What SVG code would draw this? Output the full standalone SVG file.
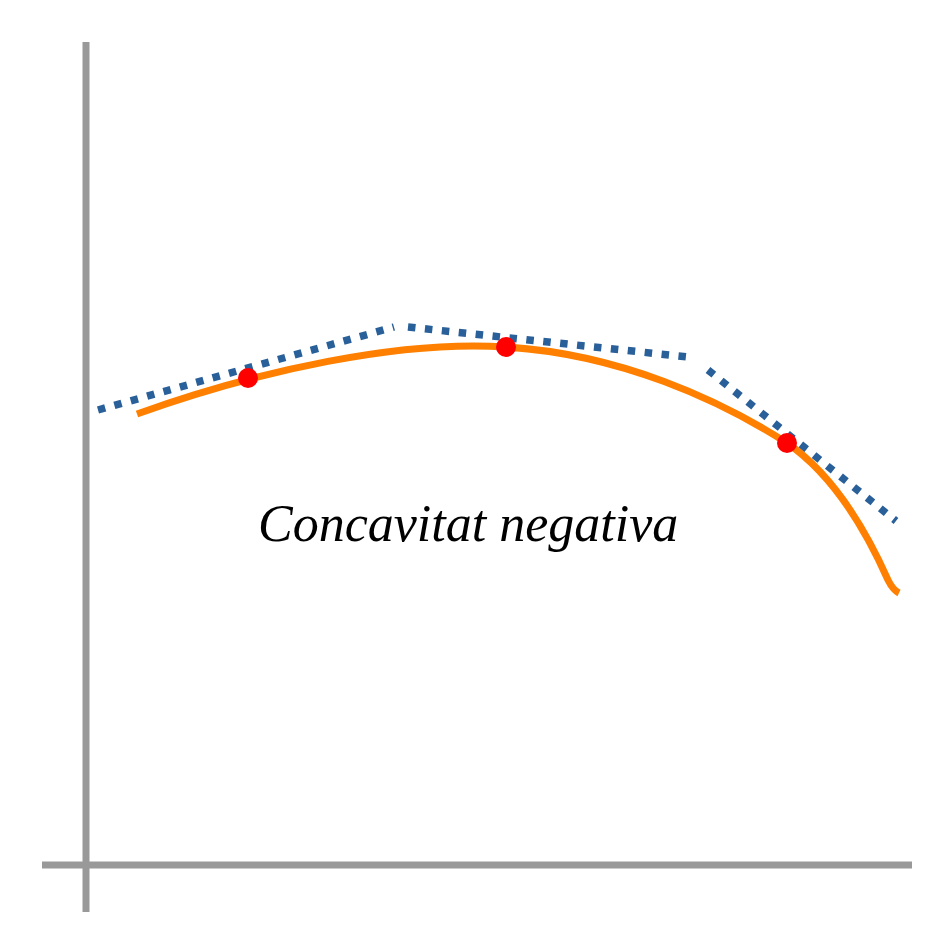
<svg xmlns="http://www.w3.org/2000/svg" width="945" height="945" viewBox="0 0 945 945">
<style>
.axis{stroke:#999999;stroke-width:7;fill:none}
.tan{stroke:#2a6099;stroke-width:7.5;stroke-dasharray:7.5 9.5;fill:none}
.curve{stroke:#ff8000;stroke-width:7;fill:none}
.pt{fill:#ff0000}
.lbl{font-family:"Liberation Serif",serif;font-style:italic;font-size:52px;fill:#000}
</style>
<rect width="945" height="945" fill="#ffffff"/>
<g id="axes">
<line class="axis" x1="86" y1="42" x2="86" y2="912"/>
<line class="axis" x1="42" y1="865" x2="912" y2="865"/>
</g>
<g id="tangents">
<line class="tan" x1="98" y1="410" x2="394" y2="327"/>
<line class="tan" x1="408" y1="327" x2="688" y2="357"/>
<line class="tan" x1="708" y1="370" x2="896" y2="521"/>
</g>
<g id="curve">
<path class="curve" d="M137,414 C260,370 400,340 506,347 C620,354 720,400 787,443 C835,476 868,535 888,580 C892,588 895,591 899,593"/>
</g>
<g id="points">
<circle class="pt" cx="248" cy="378" r="10"/>
<circle class="pt" cx="506" cy="347" r="10"/>
<circle class="pt" cx="787" cy="443" r="10"/>
</g>
<text class="lbl" x="258" y="541">Concavitat negativa</text>
</svg>
